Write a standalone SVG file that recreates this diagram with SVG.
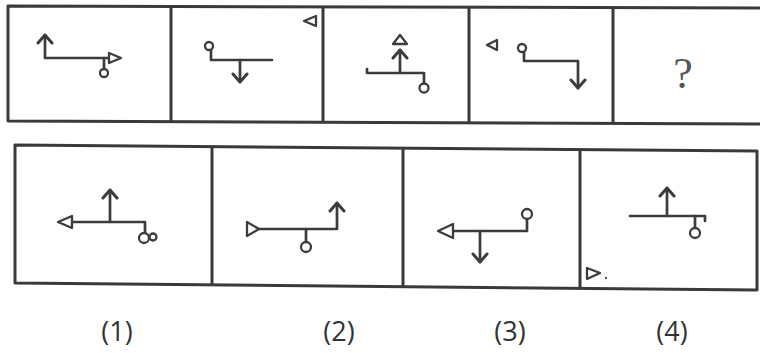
<svg xmlns="http://www.w3.org/2000/svg" width="760" height="353" viewBox="0 0 760 353">
<defs>
<style>
.frame{fill:none;stroke:#3a3a3a;stroke-width:3;stroke-linejoin:round}
.ln{fill:none;stroke:#3c3c3c;stroke-width:2.7;stroke-linecap:round;stroke-linejoin:round}
.sh{fill:#fff;stroke:#3c3c3c;stroke-width:2.3;stroke-linejoin:round}
.lbl{font-family:"Open Sans","Liberation Sans",sans-serif;font-size:27px;fill:#333;text-anchor:middle}
.q{font-family:"Liberation Serif",serif;font-size:44px;fill:#555;text-anchor:middle}
</style>
<marker id="ah" viewBox="-10 -10 20 20" markerUnits="userSpaceOnUse" markerWidth="20" markerHeight="20" refX="0" refY="0" orient="auto">
<path d="M-8,-7 L0,0 L-8,7" fill="none" stroke="#3c3c3c" stroke-width="3" stroke-linecap="round" stroke-linejoin="round"/>
</marker>
</defs>
<rect width="760" height="353" fill="#fff"/>

<g id="frames">
<path class="frame" d="M762,8 L8,6 L8,121 L762,124"/>
<path class="frame" d="M171,6 V122 M323,7 V122 M469,7 V123 M613,8 V124"/>
<path class="frame" d="M757,151 L15,145 L15,283 L757,290 Z"/>
<path class="frame" d="M212,146 V285 M403,148 V287 M580,149 V288"/>
</g>

<g id="connectors">
<path class="ln" d="M104,58 H45 V35" marker-end="url(#ah)"/>
<path class="ln" d="M104,58 H109 M104,58 V69"/>
<path class="ln" d="M211,50 V60 H272"/>
<path class="ln" d="M240,60 V82" marker-end="url(#ah)"/>
<path class="ln" d="M400,73 V50" marker-end="url(#ah)"/>
<path class="ln" d="M367,69 V73 H424 V83"/>
<path class="ln" d="M524,52 V61 H578 V88" marker-end="url(#ah)"/>
<path class="ln" d="M72,222 H145 V233"/>
<path class="ln" d="M110,222 V190" marker-end="url(#ah)"/>
<path class="ln" d="M259,229 H337 V203" marker-end="url(#ah)"/>
<path class="ln" d="M306,229 V242"/>
<path class="ln" d="M453,231 H527 V219"/>
<path class="ln" d="M480,231 V262" marker-end="url(#ah)"/>
<path class="ln" d="M630,216 H705 V221"/>
<path class="ln" d="M667,216 V188" marker-end="url(#ah)"/>
<path class="ln" d="M695,216 V228"/>
</g>

<g id="panel-t1">
<circle class="sh" cx="104" cy="73" r="4"/>
<polygon class="sh" points="109,53 109,63 121,58"/>
</g>
<g id="panel-t2">
<circle class="sh" cx="209" cy="46" r="4"/>
<polygon class="sh" points="316,16 316,26 304,21"/>
</g>
<g id="panel-t3">
<polygon class="sh" points="400,35 393,44 407,44"/>
<circle class="sh" cx="424" cy="88" r="4.5"/>
</g>
<g id="panel-t4">
<polygon class="sh" points="497,40 497,50 487,45"/>
<circle class="sh" cx="522" cy="48" r="4"/>
</g>
<g id="panel-t5">
<text class="q" x="683" y="88">?</text>
</g>

<g id="option-1">
<polygon class="sh" points="72,216 72,228 58,222"/>
<circle class="sh" cx="144" cy="238" r="5"/>
<circle class="sh" cx="153" cy="237" r="3.5"/>
</g>
<g id="option-2">
<polygon class="sh" points="247,222 247,236 259,229"/>
<circle class="sh" cx="306" cy="247" r="5"/>
</g>
<g id="option-3">
<polygon class="sh" points="453,224 453,238 438,231"/>
<circle class="sh" cx="527" cy="214" r="5"/>
</g>
<g id="option-4">
<circle class="sh" cx="695" cy="233" r="5"/>
<polygon class="sh" points="587,268 587,279 600,273"/>
<circle cx="606" cy="278" r="1.2" fill="#555"/>
</g>

<g id="labels">
<text class="lbl" x="117" y="341">(1)</text>
<text class="lbl" x="339" y="341">(2)</text>
<text class="lbl" x="510" y="341">(3)</text>
<text class="lbl" x="672" y="341">(4)</text>
</g>
</svg>
